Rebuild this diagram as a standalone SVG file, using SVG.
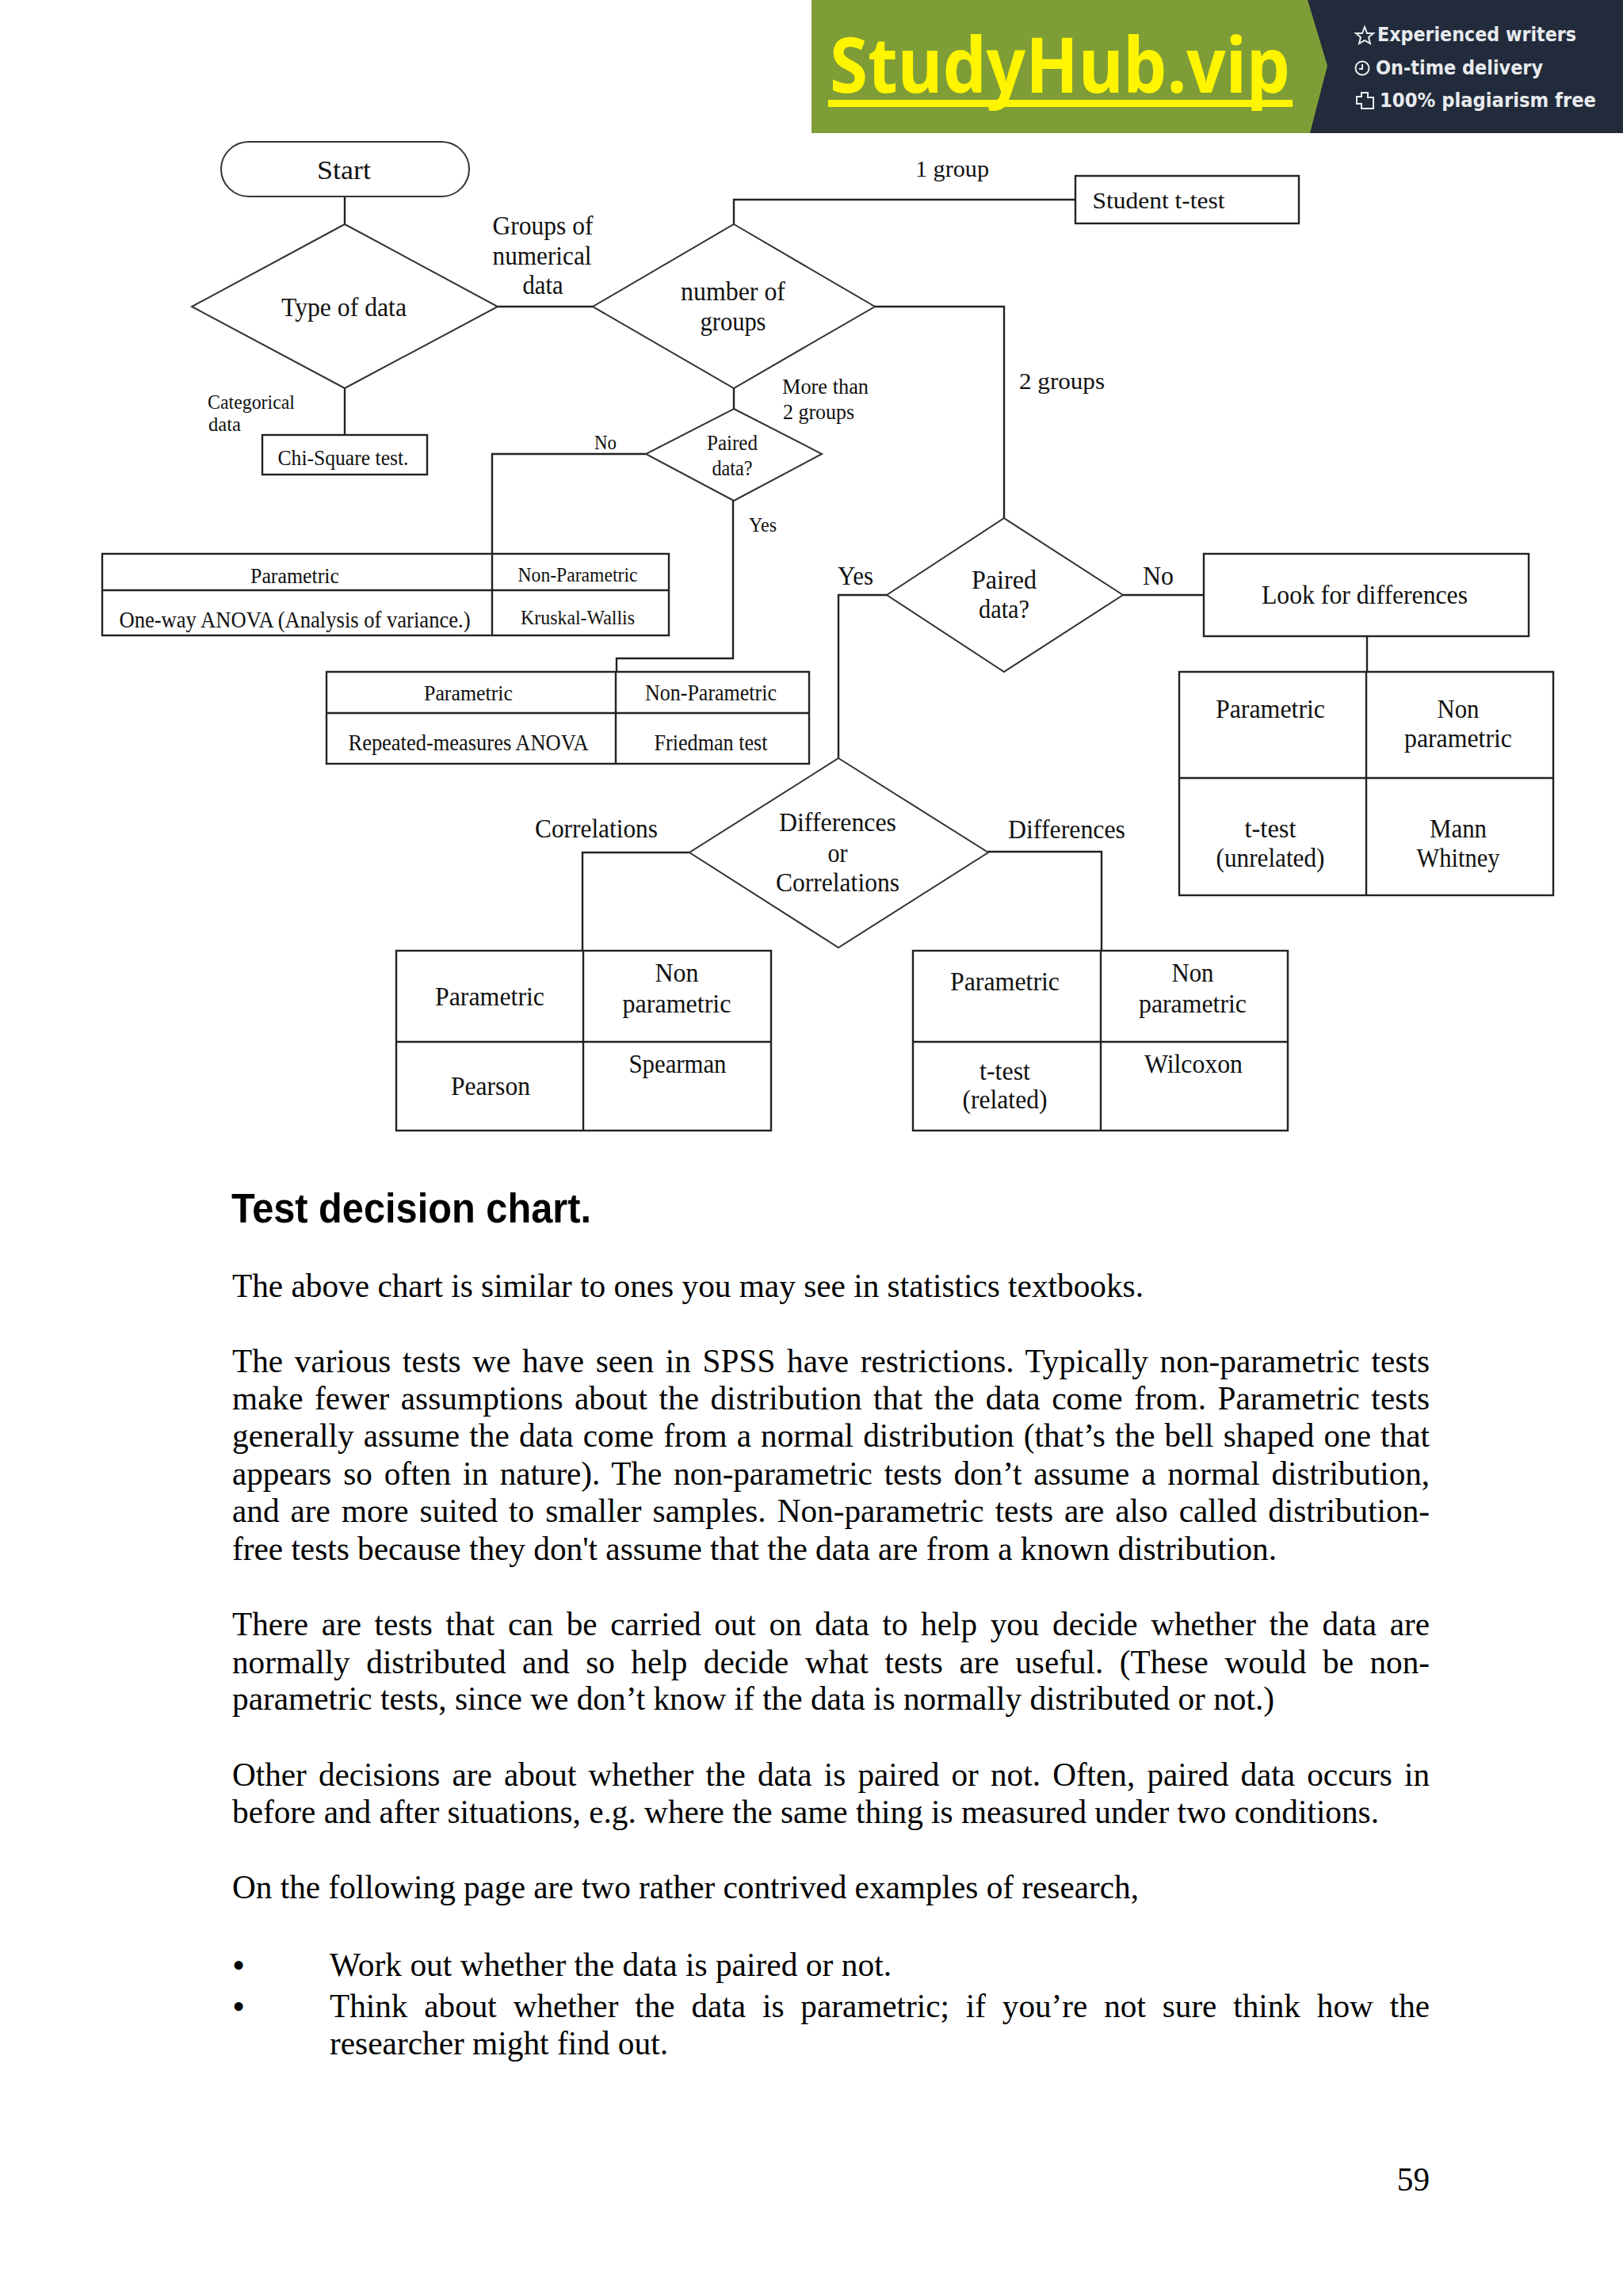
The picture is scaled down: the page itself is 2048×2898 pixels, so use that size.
<svg xmlns="http://www.w3.org/2000/svg" width="2048" height="2898" viewBox="0 0 2048 2898">
<style>
text{font-family:"Liberation Serif","Times New Roman",serif;fill:#111}
.c{text-anchor:middle}
.f23{font-size:25px}.f25{font-size:27.5px}.f27{font-size:29.5px}.f30{font-size:33px}
.s{fill:#fff;stroke:#222;stroke-width:2.4}
.d{fill:#fff;stroke:#333;stroke-width:2}
.g{fill:none;stroke:#222;stroke-width:2.4}
.b{font-size:41.2px;fill:#000}
.w{font-family:"DejaVu Sans",sans-serif;font-weight:700;font-size:24px;fill:#e8ebee}
.i{fill:none;stroke:#e8ebee;stroke-width:2}
</style>
<rect width="2048" height="2898" fill="#fff"/>

<g id="banner">
<rect x="1024" y="0" width="1024" height="168" fill="#7f9d37"/>
<polygon points="1650,0 2048,0 2048,168 1653,168 1675,83" fill="#222b3b"/>
<text x="1047" y="117" textLength="581" lengthAdjust="spacingAndGlyphs" style="font-family:'Noto Sans',sans-serif;font-weight:700;font-size:96px;fill:#fff500">StudyHub.vip</text>
<rect x="1045" y="126" width="586" height="9" fill="#fff500"/>
<polygon class="i" points="1722,34 1725,42 1733,42 1727,47 1729,55 1722,51 1715,55 1717,47 1711,42 1719,42"/>
<circle class="i" cx="1719" cy="86" r="8.5"/>
<path class="i" d="M1719 81V87H1715"/>
<path class="i" d="M1712 122H1718V117H1726V123H1733V137H1718V131H1712Z"/>
<text class="w" x="1738" y="52" textLength="251" lengthAdjust="spacingAndGlyphs">Experienced writers</text>
<text class="w" x="1736" y="94" textLength="211" lengthAdjust="spacingAndGlyphs">On-time delivery</text>
<text class="w" x="1741" y="135" textLength="273" lengthAdjust="spacingAndGlyphs">100% plagiarism free</text>
</g>

<g id="connectors">
<path class="g" d="M435 248V283"/>
<path class="g" d="M435 490V549"/>
<path class="g" d="M628 387H749"/>
<path class="g" d="M926 283V252H1357"/>
<path class="g" d="M926 490V516"/>
<path class="g" d="M1103 387H1267V654"/>
<path class="g" d="M815 573H621V699"/>
<path class="g" d="M925 632V831H778V848"/>
<path class="g" d="M1119 751H1058V958"/>
<path class="g" d="M1417 751H1519"/>
<path class="g" d="M1725 803V848"/>
<path class="g" d="M871 1076H735V1200"/>
<path class="g" d="M1246 1075H1390V1200"/>
</g>

<g id="edge-labels">
<text class="f30 c" x="685" y="296" textLength="127" lengthAdjust="spacingAndGlyphs">Groups of</text>
<text class="f30 c" x="684" y="334" textLength="125" lengthAdjust="spacingAndGlyphs">numerical</text>
<text class="f30 c" x="685" y="371" textLength="51" lengthAdjust="spacingAndGlyphs">data</text>
<text class="f23" x="262" y="516" textLength="110" lengthAdjust="spacingAndGlyphs">Categorical</text>
<text class="f23" x="263" y="544" textLength="41" lengthAdjust="spacingAndGlyphs">data</text>
<text class="f27" x="1155" y="223" textLength="93" lengthAdjust="spacingAndGlyphs">1 group</text>
<text class="f27" x="1286" y="491" textLength="108" lengthAdjust="spacingAndGlyphs">2 groups</text>
<text class="f25" x="987" y="497" textLength="109" lengthAdjust="spacingAndGlyphs">More than</text>
<text class="f25" x="988" y="529" textLength="90" lengthAdjust="spacingAndGlyphs">2 groups</text>
<text class="f23" x="750" y="567" textLength="28" lengthAdjust="spacingAndGlyphs">No</text>
<text class="f23" x="945" y="671" textLength="35" lengthAdjust="spacingAndGlyphs">Yes</text>
<text class="f30" x="1057" y="738" textLength="45" lengthAdjust="spacingAndGlyphs">Yes</text>
<text class="f30" x="1442" y="738" textLength="39" lengthAdjust="spacingAndGlyphs">No</text>
<text class="f30" x="675" y="1057" textLength="155" lengthAdjust="spacingAndGlyphs">Correlations</text>
<text class="f30" x="1272" y="1058" textLength="148" lengthAdjust="spacingAndGlyphs">Differences</text>
</g>

<g id="start">
<rect class="d" x="279" y="179" width="313" height="69" rx="35" ry="35"/>
<text class="f30 c" x="434" y="226" textLength="68" lengthAdjust="spacingAndGlyphs">Start</text>
</g>
<g id="type-of-data">
<polygon class="d" points="435,283 628,387 435,490 242,387"/>
<text class="f30 c" x="434" y="399" textLength="158" lengthAdjust="spacingAndGlyphs">Type of data</text>
</g>
<g id="number-of-groups">
<polygon class="d" points="926,283 1104,387 926,490 748,387"/>
<text class="f30 c" x="925" y="379" textLength="132" lengthAdjust="spacingAndGlyphs">number of</text>
<text class="f30 c" x="925" y="417" textLength="83" lengthAdjust="spacingAndGlyphs">groups</text>
</g>
<g id="student-t-test">
<rect class="s" x="1357" y="222" width="282" height="60"/>
<text class="f27 c" x="1462" y="263" textLength="167" lengthAdjust="spacingAndGlyphs">Student t-test</text>
</g>
<g id="chi-square">
<rect class="s" x="331" y="549" width="208" height="50"/>
<text class="f25 c" x="433" y="587" textLength="165" lengthAdjust="spacingAndGlyphs">Chi-Square test.</text>
</g>
<g id="paired-small">
<polygon class="d" points="926,516 1037,573 926,632 815,573"/>
<text class="f25 c" x="924" y="568" textLength="64" lengthAdjust="spacingAndGlyphs">Paired</text>
<text class="f25 c" x="924" y="600" textLength="51" lengthAdjust="spacingAndGlyphs">data?</text>
</g>
<g id="table-unpaired">
<rect class="s" x="129" y="699" width="715" height="103"/>
<path class="g" d="M129 745H844M621 699V802"/>
<text class="f25 c" x="372" y="736" textLength="112" lengthAdjust="spacingAndGlyphs">Parametric</text>
<text class="f23 c" x="729" y="734" textLength="151" lengthAdjust="spacingAndGlyphs">Non-Parametric</text>
<text class="f27 c" x="372" y="792" textLength="443" lengthAdjust="spacingAndGlyphs">One-way ANOVA (Analysis of variance.)</text>
<text class="f23 c" x="729" y="788" textLength="144" lengthAdjust="spacingAndGlyphs">Kruskal-Wallis</text>
</g>
<g id="table-paired">
<rect class="s" x="412" y="848" width="609" height="116"/>
<path class="g" d="M412 900H1021M777 848V964"/>
<text class="f25 c" x="591" y="884" textLength="112" lengthAdjust="spacingAndGlyphs">Parametric</text>
<text class="f27 c" x="897" y="884" textLength="166" lengthAdjust="spacingAndGlyphs">Non-Parametric</text>
<text class="f27 c" x="591" y="947" textLength="303" lengthAdjust="spacingAndGlyphs">Repeated-measures ANOVA</text>
<text class="f27 c" x="897" y="947" textLength="143" lengthAdjust="spacingAndGlyphs">Friedman test</text>
</g>
<g id="paired-large">
<polygon class="d" points="1267,654 1417,751 1267,848 1119,751"/>
<text class="f30 c" x="1267" y="743" textLength="82" lengthAdjust="spacingAndGlyphs">Paired</text>
<text class="f30 c" x="1267" y="780" textLength="64" lengthAdjust="spacingAndGlyphs">data?</text>
</g>
<g id="look-for-differences">
<rect class="s" x="1519" y="699" width="410" height="104"/>
<text class="f30 c" x="1722" y="762" textLength="260" lengthAdjust="spacingAndGlyphs">Look for differences</text>
</g>
<g id="table-unrelated">
<rect class="s" x="1488" y="848" width="472" height="282"/>
<path class="g" d="M1488 982H1960M1724 848V1130"/>
<text class="f30 c" x="1603" y="906" textLength="138" lengthAdjust="spacingAndGlyphs">Parametric</text>
<text class="f30 c" x="1840" y="906" textLength="53" lengthAdjust="spacingAndGlyphs">Non</text>
<text class="f30 c" x="1840" y="943" textLength="136" lengthAdjust="spacingAndGlyphs">parametric</text>
<text class="f30 c" x="1603" y="1057" textLength="65" lengthAdjust="spacingAndGlyphs">t-test</text>
<text class="f30 c" x="1603" y="1094" textLength="137" lengthAdjust="spacingAndGlyphs">(unrelated)</text>
<text class="f30 c" x="1840" y="1057" textLength="72" lengthAdjust="spacingAndGlyphs">Mann</text>
<text class="f30 c" x="1840" y="1094" textLength="105" lengthAdjust="spacingAndGlyphs">Whitney</text>
</g>
<g id="differences-or-correlations">
<polygon class="d" points="1058,957 1247,1076 1058,1196 870,1076"/>
<text class="f30 c" x="1057" y="1049" textLength="148" lengthAdjust="spacingAndGlyphs">Differences</text>
<text class="f30 c" x="1057" y="1088" textLength="25" lengthAdjust="spacingAndGlyphs">or</text>
<text class="f30 c" x="1057" y="1125" textLength="156" lengthAdjust="spacingAndGlyphs">Correlations</text>
</g>
<g id="table-correlations">
<rect class="s" x="500" y="1200" width="473" height="227"/>
<path class="g" d="M500 1315H973M736 1200V1427"/>
<text class="f30 c" x="618" y="1269" textLength="138" lengthAdjust="spacingAndGlyphs">Parametric</text>
<text class="f30 c" x="854" y="1239" textLength="55" lengthAdjust="spacingAndGlyphs">Non</text>
<text class="f30 c" x="854" y="1278" textLength="137" lengthAdjust="spacingAndGlyphs">parametric</text>
<text class="f30 c" x="619" y="1382" textLength="100" lengthAdjust="spacingAndGlyphs">Pearson</text>
<text class="f30 c" x="855" y="1354" textLength="123" lengthAdjust="spacingAndGlyphs">Spearman</text>
</g>
<g id="table-differences">
<rect class="s" x="1152" y="1200" width="473" height="227"/>
<path class="g" d="M1152 1315H1625M1389 1200V1427"/>
<text class="f30 c" x="1268" y="1250" textLength="138" lengthAdjust="spacingAndGlyphs">Parametric</text>
<text class="f30 c" x="1505" y="1239" textLength="53" lengthAdjust="spacingAndGlyphs">Non</text>
<text class="f30 c" x="1505" y="1278" textLength="136" lengthAdjust="spacingAndGlyphs">parametric</text>
<text class="f30 c" x="1268" y="1363" textLength="64" lengthAdjust="spacingAndGlyphs">t-test</text>
<text class="f30 c" x="1268" y="1399" textLength="107" lengthAdjust="spacingAndGlyphs">(related)</text>
<text class="f30 c" x="1506" y="1354" textLength="124" lengthAdjust="spacingAndGlyphs">Wilcoxon</text>
</g>

<g id="page-text">
<text x="292" y="1543" textLength="454" lengthAdjust="spacingAndGlyphs" style="font-family:'Liberation Sans',Arial,sans-serif;font-weight:700;font-size:51px;fill:#000">Test decision chart.</text>
<text class="b" x="293" y="1637" textLength="1150" lengthAdjust="spacingAndGlyphs">The above chart is similar to ones you may see in statistics textbooks.</text>

<text class="b" x="293" y="1732" word-spacing="4.3" textLength="1511" lengthAdjust="spacing">The various tests we have seen in SPSS have restrictions. Typically non-parametric tests</text>
<text class="b" x="293" y="1779" word-spacing="4" textLength="1511" lengthAdjust="spacing">make fewer assumptions about the distribution that the data come from. Parametric tests</text>
<text class="b" x="293" y="1826" word-spacing="1.8" textLength="1511" lengthAdjust="spacing">generally assume the data come from a normal distribution (that’s the bell shaped one that</text>
<text class="b" x="293" y="1874" word-spacing="4.7" textLength="1511" lengthAdjust="spacing">appears so often in nature). The non-parametric tests don’t assume a normal distribution,</text>
<text class="b" x="293" y="1921" word-spacing="3.75" textLength="1511" lengthAdjust="spacing">and are more suited to smaller samples. Non-parametric tests are also called distribution-</text>
<text class="b" x="293" y="1969" textLength="1318" lengthAdjust="spacingAndGlyphs">free tests because they don't assume that the data are from a known distribution.</text>

<text class="b" x="293" y="2064" word-spacing="6.3" textLength="1511" lengthAdjust="spacing">There are tests that can be carried out on data to help you decide whether the data are</text>
<text class="b" x="293" y="2112" word-spacing="10.3" textLength="1511" lengthAdjust="spacing">normally distributed and so help decide what tests are useful. (These would be non-</text>
<text class="b" x="293" y="2158" textLength="1315" lengthAdjust="spacingAndGlyphs">parametric tests, since we don’t know if the data is normally distributed or not.)</text>

<text class="b" x="293" y="2254" word-spacing="4.9" textLength="1511" lengthAdjust="spacing">Other decisions are about whether the data is paired or not. Often, paired data occurs in</text>
<text class="b" x="293" y="2301" textLength="1447" lengthAdjust="spacingAndGlyphs">before and after situations, e.g. where the same thing is measured under two conditions.</text>

<text class="b" x="293" y="2396" textLength="1144" lengthAdjust="spacingAndGlyphs">On the following page are two rather contrived examples of research,</text>

<text class="b" x="293" y="2496" style="font-size:46px">•</text>
<text class="b" x="416" y="2494" textLength="709" lengthAdjust="spacingAndGlyphs">Work out whether the data is paired or not.</text>
<text class="b" x="293" y="2548" style="font-size:46px">•</text>
<text class="b" x="416" y="2546" word-spacing="10.6" textLength="1388" lengthAdjust="spacing">Think about whether the data is parametric; if you’re not sure think how the</text>
<text class="b" x="416" y="2593" textLength="427" lengthAdjust="spacingAndGlyphs">researcher might find out.</text>

<text class="b" x="1804" y="2765" text-anchor="end">59</text>
</g>
</svg>
